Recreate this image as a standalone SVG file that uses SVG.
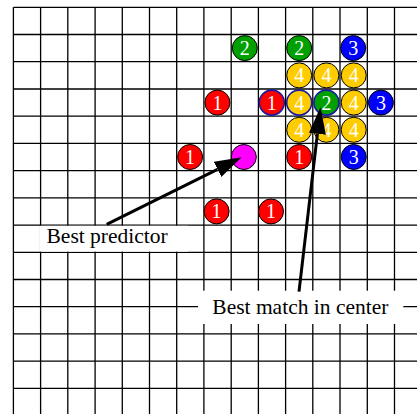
<svg xmlns="http://www.w3.org/2000/svg" width="417" height="414" viewBox="0 0 417 414">
<style>
.grid line{stroke:#000;stroke-width:1.3}
.dot{stroke:#000;stroke-width:1}
.sel{stroke:#1a1aa0;stroke-width:1.6}
.r{fill:#ff0000}.g{fill:#00a000}.b{fill:#0000ff}.y{fill:#ffcc00}.m{fill:#ff00ff}
.d{font-family:"Liberation Serif","Times New Roman",serif;font-size:20px;fill:#fff;text-anchor:middle}
.lbl{font-family:"Liberation Serif","Times New Roman",serif;font-size:21.5px;fill:#000}
.arr{stroke:#000;stroke-width:3;fill:none;marker-end:url(#ah)}
</style>
<defs>
<marker id="ah" markerUnits="userSpaceOnUse" markerWidth="27" markerHeight="17" viewBox="0 0 27 17" refX="0" refY="8.5" orient="auto">
<path d="M0,0 L27,8.5 L0,17 z" fill="#000"/>
</marker>
</defs>
<rect width="417" height="414" fill="#fff"/>
<g class="grid" id="grid">
<line x1="13.4" y1="7.3" x2="13.4" y2="414"/>
<line x1="40.6" y1="7.3" x2="40.6" y2="414"/>
<line x1="67.8" y1="7.3" x2="67.8" y2="414"/>
<line x1="95.1" y1="7.3" x2="95.1" y2="414"/>
<line x1="122.3" y1="7.3" x2="122.3" y2="414"/>
<line x1="149.5" y1="7.3" x2="149.5" y2="414"/>
<line x1="176.7" y1="7.3" x2="176.7" y2="414"/>
<line x1="203.9" y1="7.3" x2="203.9" y2="414"/>
<line x1="231.2" y1="7.3" x2="231.2" y2="414"/>
<line x1="258.4" y1="7.3" x2="258.4" y2="414"/>
<line x1="285.6" y1="7.3" x2="285.6" y2="414"/>
<line x1="312.8" y1="7.3" x2="312.8" y2="414"/>
<line x1="340.0" y1="7.3" x2="340.0" y2="414"/>
<line x1="367.3" y1="7.3" x2="367.3" y2="414"/>
<line x1="394.5" y1="7.3" x2="394.5" y2="414"/>
<line x1="13.4" y1="7.3" x2="417" y2="7.3"/>
<line x1="13.4" y1="34.5" x2="417" y2="34.5"/>
<line x1="13.4" y1="61.7" x2="417" y2="61.7"/>
<line x1="13.4" y1="89.0" x2="417" y2="89.0"/>
<line x1="13.4" y1="116.2" x2="417" y2="116.2"/>
<line x1="13.4" y1="143.4" x2="417" y2="143.4"/>
<line x1="13.4" y1="170.6" x2="417" y2="170.6"/>
<line x1="13.4" y1="197.8" x2="417" y2="197.8"/>
<line x1="13.4" y1="225.1" x2="417" y2="225.1"/>
<line x1="13.4" y1="252.3" x2="417" y2="252.3"/>
<line x1="13.4" y1="279.5" x2="417" y2="279.5"/>
<line x1="13.4" y1="306.7" x2="417" y2="306.7"/>
<line x1="13.4" y1="333.9" x2="417" y2="333.9"/>
<line x1="13.4" y1="361.2" x2="417" y2="361.2"/>
<line x1="13.4" y1="388.4" x2="417" y2="388.4"/>
</g>
<g id="n-g1"><circle class="dot g" cx="244.8" cy="48.1" r="12.5"/><text class="d" x="244.8" y="55.1">2</text></g>
<g id="n-g2"><circle class="dot g" cx="299.2" cy="48.1" r="12.5"/><text class="d" x="299.2" y="55.1">2</text></g>
<g id="n-b1"><circle class="dot b" cx="353.2" cy="48.1" r="12.5"/><text class="d" x="353.2" y="55.1">3</text></g>
<g id="n-y1"><circle class="dot y" cx="299.2" cy="75.4" r="12.5"/><text class="d" x="299.2" y="82.4">4</text></g>
<g id="n-y2"><circle class="dot y" cx="326.4" cy="75.4" r="12.5"/><text class="d" x="326.4" y="82.4">4</text></g>
<g id="n-y3"><circle class="dot y" cx="353.7" cy="75.4" r="12.5"/><text class="d" x="353.7" y="82.4">4</text></g>
<g id="n-r1"><circle class="dot r" cx="217.4" cy="102.6" r="12.5"/><text class="d" x="217.4" y="109.6">1</text></g>
<g id="n-r2"><circle class="sel r" cx="271.8" cy="102.6" r="12.5"/><text class="d" x="271.8" y="109.6">1</text></g>
<g id="n-y4"><circle class="sel y" cx="299.2" cy="102.6" r="12.5"/><text class="d" x="299.2" y="109.6">4</text></g>
<g id="n-g3"><circle class="sel g" cx="326.4" cy="102.6" r="12.5"/><text class="d" x="326.4" y="109.6">2</text></g>
<g id="n-y5"><circle class="dot y" cx="353.7" cy="102.6" r="12.5"/><text class="d" x="353.7" y="109.6">4</text></g>
<g id="n-b2"><circle class="dot b" cx="380.9" cy="102.6" r="12.5"/><text class="d" x="380.9" y="109.6">3</text></g>
<g id="n-y6"><circle class="dot y" cx="299.2" cy="129.8" r="12.5"/><text class="d" x="299.2" y="136.8">4</text></g>
<g id="n-y7"><circle class="dot y" cx="326.4" cy="129.8" r="12.5"/><text class="d" x="326.4" y="136.8">4</text></g>
<g id="n-y8"><circle class="dot y" cx="353.7" cy="129.8" r="12.5"/><text class="d" x="353.7" y="136.8">4</text></g>
<g id="n-r3"><circle class="dot r" cx="190.1" cy="157.0" r="12.5"/><text class="d" x="190.1" y="164.0">1</text></g>
<g id="n-m"><circle class="dot m" cx="243.8" cy="157.0" r="12.5"/></g>
<g id="n-r4"><circle class="dot r" cx="299.2" cy="157.0" r="12.5"/><text class="d" x="299.2" y="164.0">1</text></g>
<g id="n-b3"><circle class="dot b" cx="353.7" cy="157.0" r="12.5"/><text class="d" x="353.7" y="164.0">3</text></g>
<g id="n-r5"><circle class="dot r" cx="216.6" cy="211.4" r="12.5"/><text class="d" x="216.6" y="218.4">1</text></g>
<g id="n-r6"><circle class="dot r" cx="271.0" cy="211.4" r="12.5"/><text class="d" x="271.0" y="218.4">1</text></g>
<g id="label-predictor"><rect x="40" y="225.8" width="148.3" height="25.8" fill="#fff"/><text class="lbl" x="46.5" y="242.7">Best predictor</text></g>
<g id="label-match"><rect x="198" y="290.7" width="205.3" height="33.3" fill="#fff"/><text class="lbl" x="212.3" y="313.8">Best match in center</text></g>
<g id="connectors">
<line class="arr" x1="106.7" y1="224.3" x2="217.5" y2="169.3"/>
<line class="arr" x1="299" y1="291.7" x2="317.4" y2="133.8"/>
</g>
</svg>
